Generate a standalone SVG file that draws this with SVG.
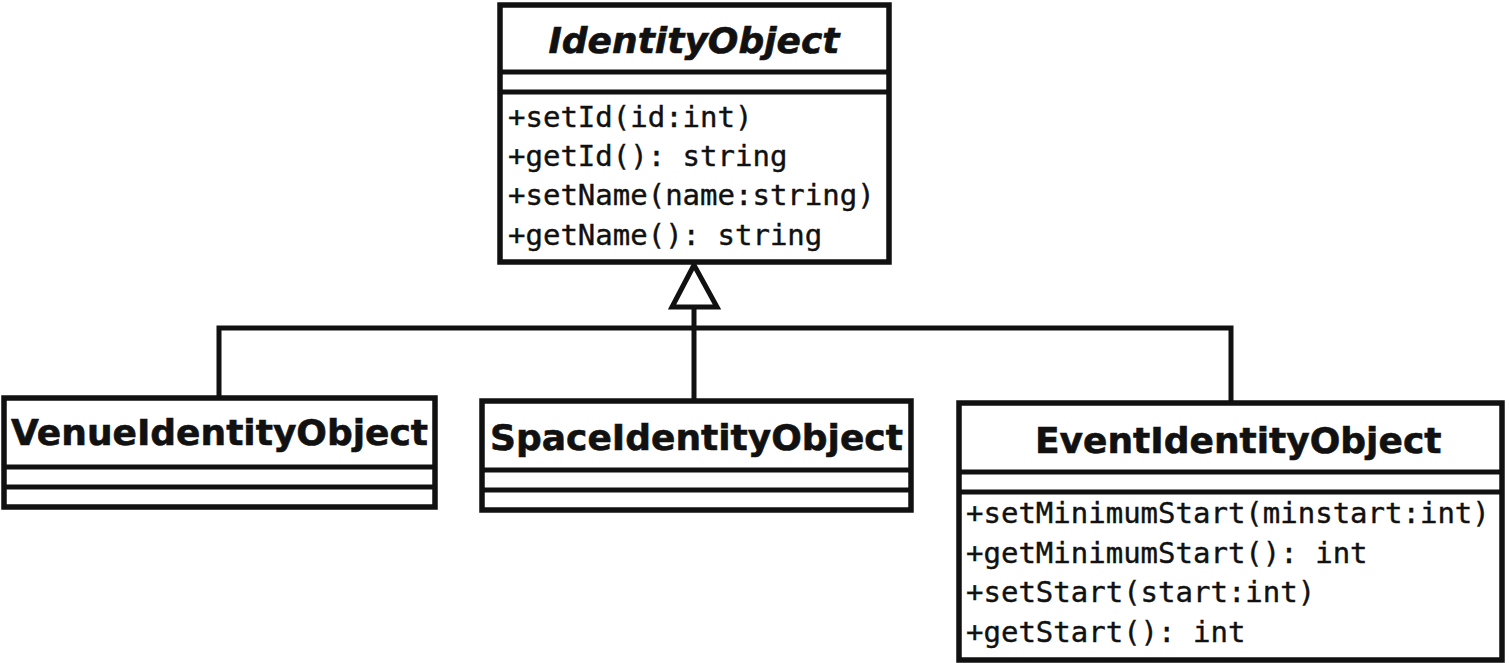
<svg xmlns="http://www.w3.org/2000/svg" width="1509" height="663" viewBox="0 0 1509 663">
<style>
.box{fill:#fff;stroke:#111;stroke-width:5.5}
.sep{stroke:#111;stroke-width:5;fill:none}
.title{font-family:"DejaVu Sans",sans-serif;font-weight:bold;font-size:36px;fill:#111;stroke:#111;stroke-width:0.6}
.abs{font-style:italic}
.m{font-family:"DejaVu Sans Mono",monospace;font-size:29px;fill:#111;stroke:#111;stroke-width:0.4}
.conn{stroke:#111;stroke-width:5;fill:none}
</style>
<rect width="1509" height="663" fill="#fff"/>
<g id="connectors">
<path class="conn" d="M219,399 V328 H1231 V403 M694,307 V401"/>
<polygon points="694,265 672,307 717,307" fill="#fff" stroke="#111" stroke-width="5" stroke-linejoin="miter"/>
</g>
<g id="IdentityObject">
<rect class="box" x="500" y="5" width="389" height="257"/>
<line class="sep" x1="500" y1="72" x2="889" y2="72"/>
<line class="sep" x1="500" y1="92" x2="889" y2="92"/>
<text class="title abs" x="694" y="53" text-anchor="middle">IdentityObject</text>
<text class="m" x="508" y="127">+setId(id:int)</text>
<text class="m" x="508" y="166">+getId(): string</text>
<text class="m" x="508" y="205">+setName(name:string)</text>
<text class="m" x="508" y="245">+getName(): string</text>
</g>
<g id="VenueIdentityObject">
<rect class="box" x="4" y="398" width="431" height="109"/>
<line class="sep" x1="4" y1="467" x2="435" y2="467"/>
<line class="sep" x1="4" y1="487" x2="435" y2="487"/>
<text class="title" x="219.5" y="445" text-anchor="middle">VenueIdentityObject</text>
</g>
<g id="SpaceIdentityObject">
<rect class="box" x="482" y="401" width="429" height="109"/>
<line class="sep" x1="482" y1="470" x2="911" y2="470"/>
<line class="sep" x1="482" y1="490" x2="911" y2="490"/>
<text class="title" x="696.5" y="450" text-anchor="middle">SpaceIdentityObject</text>
</g>
<g id="EventIdentityObject">
<rect class="box" x="959" y="403" width="543" height="257"/>
<line class="sep" x1="959" y1="472" x2="1502" y2="472"/>
<line class="sep" x1="959" y1="492" x2="1502" y2="492"/>
<text class="title" x="1035" y="453">EventIdentityObject</text>
<text class="m" x="966" y="523">+setMinimumStart(minstart:int)</text>
<text class="m" x="966" y="563">+getMinimumStart(): int</text>
<text class="m" x="966" y="602">+setStart(start:int)</text>
<text class="m" x="966" y="642">+getStart(): int</text>
</g>
</svg>
